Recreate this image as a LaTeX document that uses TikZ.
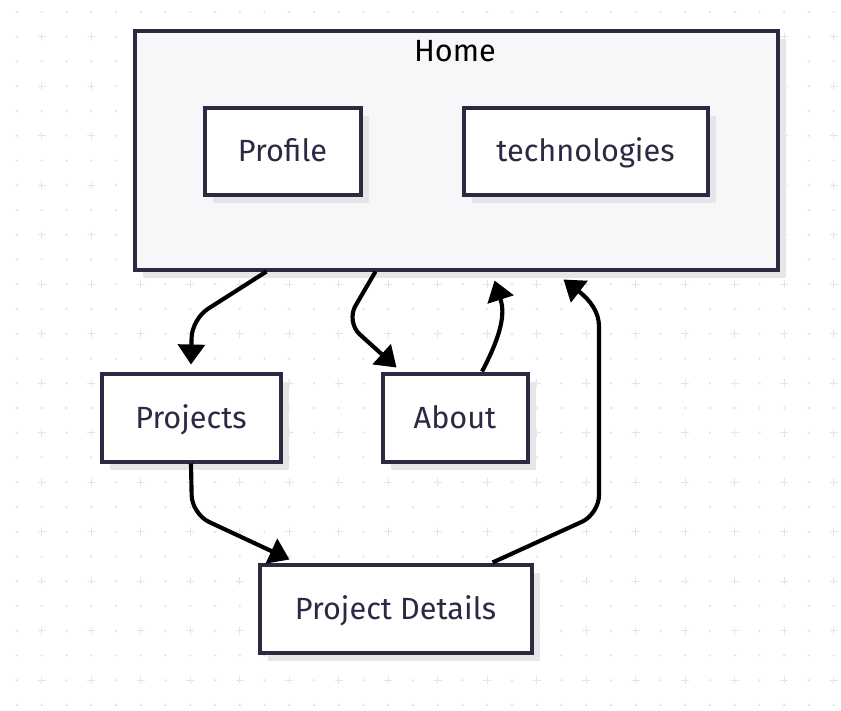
\documentclass[tikz,border=0pt]{standalone}
\usepackage{fontspec}
\setmainfont{Fira Sans}
\usetikzlibrary{arrows.meta,calc,shadows}
\definecolor{boxc}{HTML}{2B2A40}
\definecolor{txtc}{HTML}{2A2A44}
\definecolor{gridc}{HTML}{D3ECEF}
\definecolor{shadc}{HTML}{E6E6E8}
\definecolor{homefill}{HTML}{F7F7FA}
\begin{document}
\begin{tikzpicture}[x=0.75pt,y=-0.75pt,
  box/.style={draw=boxc,line width=3pt,fill=white,text=txtc,
    font=\fontsize{23}{27}\selectfont,inner sep=0pt,text height=18.4pt,text depth=2.6pt,
    general shadow={fill=shadc,shadow xshift=6pt,shadow yshift=-6pt}},
  conn/.style={line width=3.1pt,draw=black,-{Triangle[length=15pt,width=20pt]},rounded corners=14pt},
  gdot/.style={fill=gridc,draw=none},
  gplus/.style={draw=gridc,line width=1pt}
]
\useasboundingbox (0,0) rectangle (841,710);
\fill[white] (0,0) rectangle (841,710);
% background grid
\foreach \i in {0,...,34}{
  \foreach \j in {0,...,28}{
    \pgfmathsetmacro{\gx}{17+24.75*\i}
    \pgfmathsetmacro{\gy}{12+24.75*\j}
    \pgfmathparse{int(mod(\i,2)*mod(\j,2))}
    \ifnum\pgfmathresult=1
      \draw[gplus] (\gx-4,\gy) -- (\gx+4,\gy) (\gx,\gy-4) -- (\gx,\gy+4);
    \else
      \fill[gdot] (\gx,\gy) circle[radius=1.3];
    \fi
  }
}
% nodes
\node[box,fill=homefill,minimum width=643*0.75pt,minimum height=238*0.75pt] (home) at (456,150.5) {};
\node[text=black,font=\fontsize{23}{27}\selectfont,inner sep=0pt,text height=18.4pt,text depth=2.6pt] (hometitle) at (455,51) {Home};
\node[box,minimum width=156*0.75pt,minimum height=87*0.75pt] (profile) at (282.5,151) {Profile};
\node[box,minimum width=244*0.75pt,minimum height=87*0.75pt] (tech) at (585.5,151) {technologies};
\node[box,minimum width=179*0.75pt,minimum height=88*0.75pt] (projects) at (191,417.5) {Projects};
\node[box,minimum width=145*0.75pt,minimum height=88*0.75pt] (about) at (455,417.5) {About};
\node[box,minimum width=272*0.75pt,minimum height=88*0.75pt] (pd) at (395.5,608.5) {Project Details};
% connectors
\draw[conn] ($(home.south west)+(134,0)$) -- (192,319) -- ($(projects.north)+(0,-7)$);
\draw[conn] ($(home.south west)+(243,0)$) -- (346,322) -- ($(about.north west)+(16,-4)$);
\draw[conn] ($(about.north)+(27,0)$) .. controls (505,328) and (504,310) .. ($(home.south west)+(362,9)$);
\draw[conn] (projects.south) -- (192,514) -- ($(pd.north west)+(32,-3)$);
\draw[conn] ($(pd.north west)+(235,0)$) -- (599,514) -- (599,345) .. controls (599,312) and (590,300) .. ($(home.south west)+(431,8)$);
\end{tikzpicture}
\end{document}
